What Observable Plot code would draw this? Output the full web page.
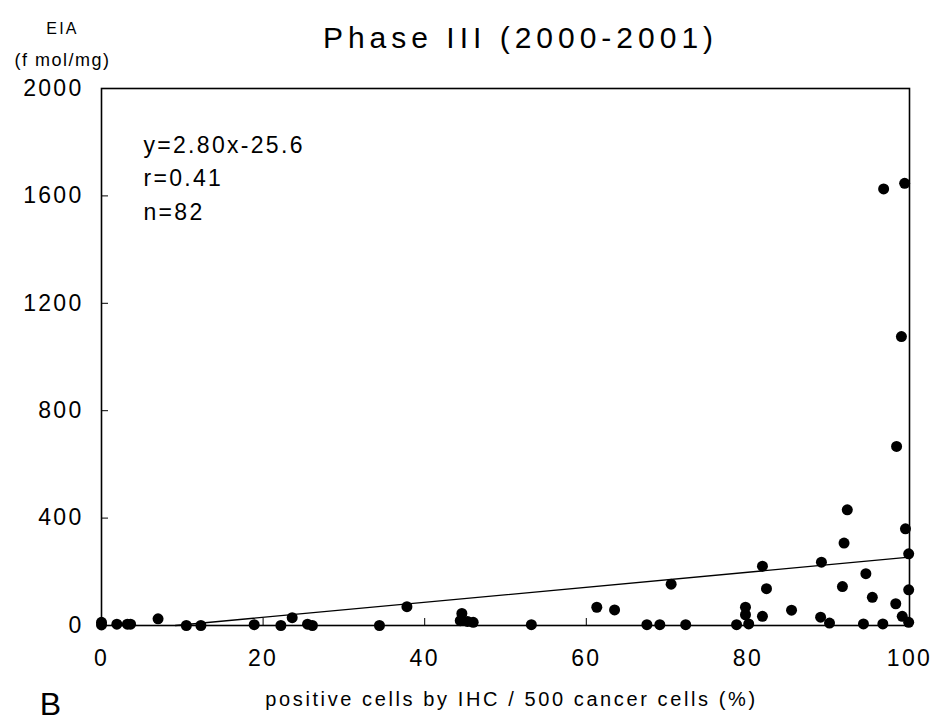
<!DOCTYPE html>
<html><head><meta charset="utf-8">
<script src="https://cdn.jsdelivr.net/npm/d3@7"></script>
<script src="https://cdn.jsdelivr.net/npm/@observablehq/plot@0.6"></script>
<style>
body{margin:0;background:#fff;}
#chart{width:931px;height:721px;overflow:hidden;}
</style></head><body><div id="chart"></div>
<script>
const titleText = "Phase III (2000-2001)";
const yUnitLine1 = "EIA";
const yUnitLine2 = "(f mol/mg)";
const xAxisLabel = "positive cells by IHC / 500 cancer cells (%)";
const panelLetter = "B";
const statLines = ["y=2.80x-25.6", "r=0.41", "n=82"];
const slope = 2.80, intercept = -25.6;

const xTicks = [0, 20, 40, 60, 80, 100];
const xTickLabels = ["0", "20", "40", "60", "80", "100"];
const yTicks = [0, 400, 800, 1200, 1600, 2000];

// positive cells (%) and EIA (fmol/mg)
const ihc = [0, 0, 1.9, 3.2, 3.6, 7.0, 10.5, 12.3, 18.9, 22.2,
  23.6, 25.5, 26.1, 34.4, 37.8, 44.6, 44.4, 45.3, 46.0, 53.2,
  61.3, 63.5, 67.5, 69.1, 70.5, 72.3, 78.6, 80.1, 79.7, 79.7,
  81.8, 81.8, 82.3, 85.4, 89.0, 90.1, 94.3, 96.7, 99.1, 99.9,
  98.3, 99.9, 95.4, 91.7, 94.6, 89.1, 99.9, 91.9, 99.5, 92.3,
  96.8, 99.4, 99.0, 98.4];
const eia = [12, 2, 5, 5, 5, 25, 0, 0, 3, 0,
  29, 5, 0, 0, 70, 45, 18, 15, 12, 3,
  68, 58, 3, 3, 154, 3, 3, 6, 68, 40,
  34, 221, 137, 57, 31, 9, 6, 6, 34, 12,
  81, 133, 105, 145, 193, 236, 267, 307, 360, 431,
  1626, 1647, 1076, 667];

const pts = ihc.map((x, i) => ({x, y: eia[i]}));
const x0 = -intercept / slope;
const fitLine = [x0, 100].map(x => ({x, y: slope * x + intercept}));
const xLabelMap = new Map(xTicks.map((t, i) => [t, xTickLabels[i]]));

const font = "'Liberation Sans', Arial, Helvetica, sans-serif";

const chart = Plot.plot({
  width: 931, height: 721,
  marginLeft: 101, marginRight: 22, marginTop: 88, marginBottom: 96,
  style: {fontFamily: font, fontSize: "23px", color: "#000", background: "#fff", overflow: "visible", letterSpacing: "0.1em"},
  x: {domain: [0, 100], label: null},
  y: {domain: [0, 2000], label: null},
  marks: [
    Plot.frame({stroke: "#000", strokeWidth: 1.6}),
    Plot.axisX(xTicks, {tickSize: 0, tickPadding: 24, tickFormat: d => xLabelMap.get(d), fontSize: 23, label: null}),
    Plot.axisX(xTicks.slice(1, -1), {tickSize: 7, dy: -7, tickFormat: () => "", label: null}),
    Plot.axisY(yTicks, {tickSize: 0, tickPadding: 18, tickFormat: d => String(d), fontSize: 23, label: null}),
    Plot.axisY(yTicks.slice(1, -1), {tickSize: 7, dx: 7, tickFormat: () => "", label: null}),
    Plot.line(fitLine, {x: "x", y: "y", stroke: "#000", strokeWidth: 1.3}),
    Plot.dot(pts, {x: "x", y: "y", r: 5.5, fill: "#000", stroke: "none"}),
    Plot.text([statLines.join("\n")], {frameAnchor: "top-left", textAnchor: "start", lineAnchor: "top", lineHeight: 1.47, dx: 42, dy: 40, fontSize: 23}),
    Plot.text([titleText], {frameAnchor: "top", lineAnchor: "middle", dx: 15, dy: -50, fontSize: 30}),
    Plot.text([yUnitLine1], {frameAnchor: "top-left", textAnchor: "middle", lineAnchor: "bottom", dx: -39, dy: -55, fontSize: 16}),
    Plot.text([yUnitLine2], {frameAnchor: "top-left", textAnchor: "middle", lineAnchor: "bottom", dx: -39, dy: -23, fontSize: 18}),
    Plot.text([xAxisLabel], {frameAnchor: "bottom", lineAnchor: "bottom", dx: 6, dy: 80, fontSize: 20}),
    Plot.text([panelLetter], {frameAnchor: "bottom-left", textAnchor: "middle", lineAnchor: "bottom", dx: -51, dy: 89, fontSize: 32})
  ]
});

const setLS = (txt, ls) => d3.select(chart).selectAll("text").filter(function() { return this.textContent === txt; }).style("letter-spacing", ls);
setLS(titleText, "5px");
setLS(xAxisLabel, "2.6px");
setLS(yUnitLine2, "1.5px");
setLS(panelLetter, "0px");

document.getElementById("chart").append(chart);
</script></body></html>
